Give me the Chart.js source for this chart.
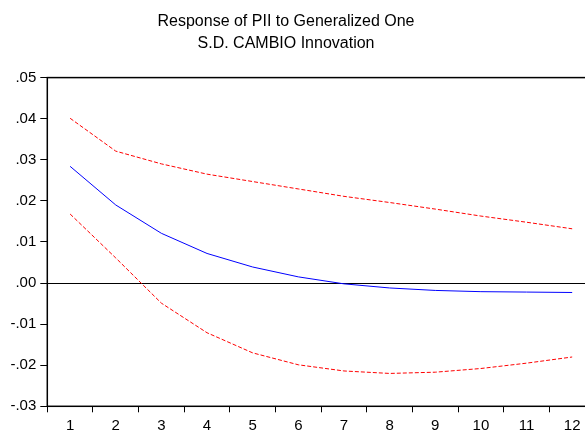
<!DOCTYPE html>
<html>
<head>
<meta charset="utf-8">
<script src="https://cdn.jsdelivr.net/npm/chart.js@4/dist/chart.umd.min.js"></script>
<style>
  html, body { margin: 0; padding: 0; background: #fff; overflow: hidden; width: 585px; height: 432px; }
  canvas { display: block; }
</style>
</head>
<body>
<canvas id="c" width="610" height="432"></canvas>
<script>
// ---- data ----
const categories = ['1','2','3','4','5','6','7','8','9','10','11','12'];
const response   = [0.0284, 0.0190, 0.0121, 0.0072, 0.0039, 0.0015, -0.0002, -0.0012, -0.0018, -0.0021, -0.0022, -0.0023];
const upperBand  = [0.0401, 0.0321, 0.0290, 0.0265, 0.0247, 0.0229, 0.0211, 0.0196, 0.0180, 0.0163, 0.0148, 0.0132];
const lowerBand  = [0.0168, 0.0061, -0.0049, -0.0121, -0.0170, -0.0199, -0.0214, -0.0220, -0.0217, -0.0208, -0.0195, -0.0180];
const yTickLabels = ['-.03','-.02','-.01','.00','.01','.02','.03','.04','.05'];
const titleLines = ['Response of PII to Generalized One', 'S.D. CAMBIO Innovation'];

const FONT = "'Liberation Sans', Arial, sans-serif";

const frame = {
  id: 'frame',
  afterDraw(chart) {
    const a = chart.chartArea, ctx = chart.ctx;
    ctx.save();
    ctx.strokeStyle = '#000';
    ctx.lineWidth = 1.5;
    ctx.strokeRect(a.left, a.top, a.right - a.left, a.bottom - a.top);
    ctx.restore();
  }
};

const titleText = {
  id: 'titleText',
  afterDraw(chart) {
    const ctx = chart.ctx;
    ctx.save();
    ctx.fillStyle = '#000';
    ctx.font = "16px " + FONT;
    ctx.textAlign = 'center';
    ctx.textBaseline = 'alphabetic';
    ctx.fillText(titleLines[0], 286, 26);
    ctx.fillText(titleLines[1], 286, 47.5);
    ctx.restore();
  }
};

new Chart(document.getElementById('c'), {
  type: 'line',
  data: {
    labels: categories,
    datasets: [
      { data: upperBand, borderColor: '#ff0000', borderWidth: 1, borderDash: [4, 2], pointRadius: 0, tension: 0, fill: false },
      { data: response,  borderColor: '#0000ff', borderWidth: 1, pointRadius: 0, tension: 0, fill: false },
      { data: lowerBand, borderColor: '#ff0000', borderWidth: 1, borderDash: [4, 2], pointRadius: 0, tension: 0, fill: false }
    ]
  },
  options: {
    responsive: false,
    animation: false,
    devicePixelRatio: 1,
    layout: { padding: { left: 0, right: 15, top: 77.6, bottom: 0 } },
    plugins: {
      legend: { display: false },
      tooltip: { enabled: false },
      title: { display: false }
    },
    scales: {
      x: {
        type: 'category',
        offset: true,
        border: { display: false },
        grid: { display: true, offset: true, drawOnChartArea: false, drawTicks: true, tickLength: 6, tickColor: '#000', tickWidth: 1 },
        ticks: { color: '#000', padding: 5, font: { family: FONT, size: 15 }, maxRotation: 0, autoSkip: false },
        afterFit(s) { s.height = 432 - 406.3; }
      },
      y: {
        type: 'linear',
        min: -0.03,
        max: 0.05,
        border: { display: false },
        grid: {
          drawOnChartArea: true,
          drawTicks: true,
          tickLength: 7,
          tickColor: '#000',
          color: (ctx) => (ctx.tick && Math.abs(ctx.tick.value) < 1e-9) ? '#000' : 'rgba(0,0,0,0)',
          lineWidth: 1
        },
        ticks: {
          stepSize: 0.01,
          color: '#000',
          padding: 4,
          font: { family: FONT, size: 15 },
          callback: (v, i) => yTickLabels[i]
        },
        afterFit(s) { s.width = 47.3; }
      }
    }
  },
  plugins: [frame, titleText]
});
</script>
</body>
</html>
